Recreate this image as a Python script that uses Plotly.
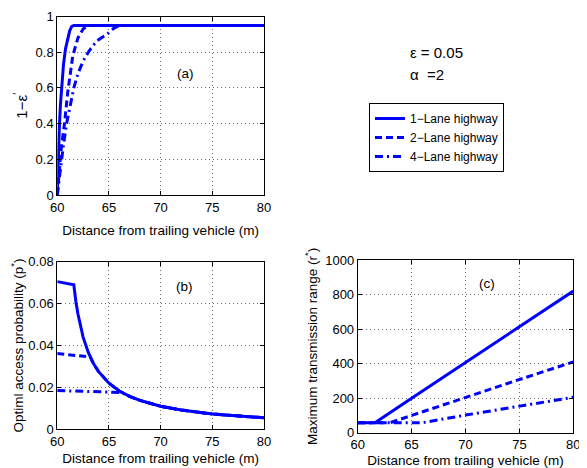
import plotly.graph_objects as go

# ---------------- data ----------------
# (a) 1 - epsilon'
a_x_1 = [60, 60.1, 60.2, 60.3, 60.4, 60.6, 60.8, 61.0, 61.2, 61.4, 61.6, 80]
a_y_1 = [0, 0.22, 0.38, 0.5, 0.6, 0.73, 0.82, 0.88, 0.92, 0.945, 0.95, 0.95]
a_x_2 = [60, 60.2, 60.4, 60.7, 61.0, 61.5, 62.0, 62.5, 63.0, 80]
a_y_2 = [0, 0.15, 0.27, 0.4, 0.57, 0.78, 0.88, 0.93, 0.95, 0.95]
a_x_4 = [60, 60.3, 60.6, 60.9, 61.2, 61.6, 62.0, 62.5, 63.0, 63.5, 64.0, 64.8, 65.5, 66.0, 80]
a_y_4 = [0, 0.15, 0.28, 0.4, 0.49, 0.6, 0.68, 0.75, 0.8, 0.84, 0.87, 0.9, 0.935, 0.95, 0.95]

# (b) optimal access probability
b_x_1 = [60, 61.6, 61.8, 62, 62.5, 63, 63.5, 64, 65, 66, 67, 68, 70, 72, 75, 78, 80]
b_y_1 = [0.0705, 0.069, 0.061, 0.055, 0.044, 0.0367, 0.0314, 0.0275, 0.022, 0.0183,
         0.0157, 0.0138, 0.011, 0.0092, 0.0073, 0.0061, 0.0055]
b_x_2 = [60, 63.2, 63.5, 64, 65, 66, 67, 68, 70, 72, 75, 78, 80]
b_y_2 = [0.0362, 0.0345, 0.0314, 0.0275, 0.022, 0.0183, 0.0157, 0.0138, 0.011,
         0.0092, 0.0073, 0.0061, 0.0055]
b_x_4 = [60, 66.2, 67, 68, 70, 72, 75, 78, 80]
b_y_4 = [0.0185, 0.0176, 0.0157, 0.0138, 0.011, 0.0092, 0.0073, 0.0061, 0.0055]

# (c) maximum transmission range
c_x_1 = [60, 61.6, 65, 70, 75, 80]
c_y_1 = [58, 58, 200, 405, 612, 820]
c_x_2 = [60, 63, 65, 70, 75, 80]
c_y_2 = [58, 58, 100, 205, 308, 410]
c_x_4 = [60, 66, 70, 75, 80]
c_y_4 = [58, 58, 102, 153, 205]

names = ["1−Lane highway", "2−Lane highway", "4−Lane highway"]
dashes = ["solid", "7px,4px", "8px,4px,2px,4px"]

FONT = "Liberation Sans, Arial, sans-serif"
BLUE = "#0000ff"
W, H = 579, 460  # page body has an 8px margin inside the 587x468 window

fig = go.Figure()

panels = [
    ("x", "y", [(a_x_1, a_y_1), (a_x_2, a_y_2), (a_x_4, a_y_4)], True),
    ("x2", "y2", [(b_x_1, b_y_1), (b_x_2, b_y_2), (b_x_4, b_y_4)], False),
    ("x3", "y3", [(c_x_1, c_y_1), (c_x_2, c_y_2), (c_x_4, c_y_4)], False),
]
for xa, ya, series, show in panels:
    for (xs, ys), nm, ds in zip(series, names, dashes):
        fig.add_trace(go.Scatter(
            x=xs, y=ys, mode="lines", name=nm, showlegend=show,
            line=dict(color=BLUE, width=3, dash=ds),
            xaxis=xa, yaxis=ya,
        ))

common = dict(
    showline=True, linecolor="black", linewidth=1, mirror="ticks",
    ticks="inside", ticklen=4, tickcolor="black", automargin=False,
    showgrid=True, gridcolor="#707070", griddash="1px,3px", gridwidth=1,
    zeroline=False, tickfont=dict(family=FONT, size=13, color="black"),
)
xlab = "Distance from trailing vehicle (m)"
tfont = dict(family=FONT, size=13.5, color="black")

fig.update_layout(
    width=W, height=H,
    margin=dict(l=0, r=0, t=0, b=0, autoexpand=False),
    paper_bgcolor="white", plot_bgcolor="white",
    font=dict(family=FONT, size=13, color="black"),
    xaxis=dict(domain=[0.0851, 0.4421], range=[60, 80], tickvals=[60, 65, 70, 75, 80],
               anchor="y", title=dict(text=xlab, font=tfont, standoff=11), **common),
    yaxis=dict(domain=[0.5935, 0.9815], range=[0, 1], tickvals=[0, 0.2, 0.4, 0.6, 0.8, 1],
               ticktext=["0", "0.2", "0.4", "0.6", "0.8", "1"],
               anchor="x", title=dict(text="1−ε<sup>′</sup>", font=dict(family=FONT, size=15, color="black"), standoff=4), **common),
    xaxis2=dict(domain=[0.0851, 0.4421], range=[60, 80], tickvals=[60, 65, 70, 75, 80],
                anchor="y2", title=dict(text=xlab, font=tfont, standoff=5), **common),
    yaxis2=dict(domain=[0.0841, 0.4485], range=[0, 0.08], tickvals=[0, 0.02, 0.04, 0.06, 0.08],
                anchor="x2", title=dict(text="Optiml access probability (p<sup>*</sup>)", font=tfont, standoff=1), **common),
    xaxis3=dict(domain=[0.6040, 0.9763], range=[60, 80], tickvals=[60, 65, 70, 75, 80],
                anchor="y3", title=dict(text=xlab, font=tfont, standoff=5), **common),
    yaxis3=dict(domain=[0.0767, 0.4522], range=[0, 1000], tickvals=[0, 200, 400, 600, 800, 1000],
                anchor="x3", title=dict(text="Maximum transmission range (r<sup>*</sup>)", font=tfont, standoff=4), **common),
    legend=dict(x=361 / W, y=1 - 95 / H, xanchor="left", yanchor="top",
                bordercolor="black", borderwidth=1, bgcolor="white",
                font=dict(family=FONT, size=12, color="black"),
                tracegroupgap=0, itemwidth=30),
    annotations=[
        dict(text="(a)", x=72.45, y=0.683, xref="x", yref="y", showarrow=False,
             font=dict(family=FONT, size=13.5)),
        dict(text="(b)", x=72.3, y=0.068, xref="x2", yref="y2", showarrow=False,
             font=dict(family=FONT, size=13.5)),
        dict(text="(c)", x=71.97, y=865, xref="x3", yref="y3", showarrow=False,
             font=dict(family=FONT, size=13.5)),
        dict(text="ε = 0.05", x=400 / W, y=1 - 44 / H, xref="paper", yref="paper",
             xanchor="left", yanchor="middle", showarrow=False,
             font=dict(family=FONT, size=15)),
        dict(text="α  =2", x=400 / W, y=1 - 67 / H, xref="paper", yref="paper",
             xanchor="left", yanchor="middle", showarrow=False,
             font=dict(family=FONT, size=15)),
    ],
)

fig.write_html("out.html")
